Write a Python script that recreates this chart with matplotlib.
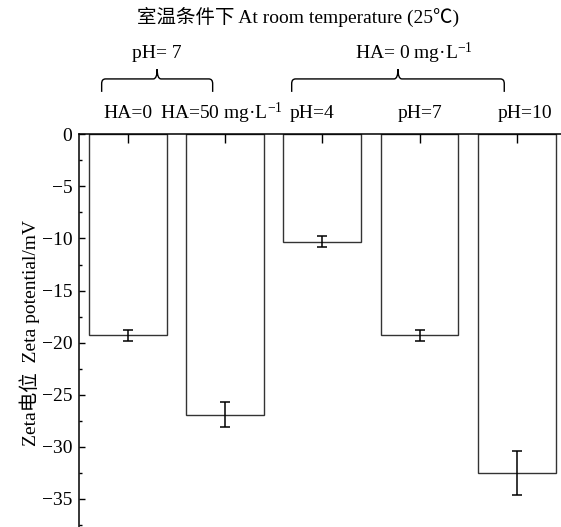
import matplotlib.pyplot as plt
import numpy as np
from matplotlib.path import Path
from matplotlib.patches import PathPatch
from matplotlib.transforms import blended_transform_factory
from matplotlib.ticker import MultipleLocator

plt.rcParams['font.family'] = ['Liberation Serif', 'Noto Sans CJK SC', 'DejaVu Sans']
plt.rcParams['font.size'] = 14
plt.rcParams['mathtext.fontset'] = 'custom'
plt.rcParams['mathtext.rm'] = 'Liberation Serif'
plt.rcParams['mathtext.it'] = 'Liberation Serif:italic'

# data
labels = ['HA=0', r'HA=50 mg·L$^{-1}$', 'pH=4', 'pH=7', 'pH=10']
zeta = [-19.3, -26.9, -10.3, -19.3, -32.5]
zeta_err = [0.5, 1.2, 0.55, 0.5, 2.1]

# layout of the labels above the plot (data-x shift of each label)
label_shift = [0.0, -0.04, -0.11, 0.0, 0.08]
groups = [('pH= 7', 0.73, 1.872), (r'HA= 0 mg·L$^{-1}$', 2.685, 4.872)]

W, H = 561, 527
fig = plt.figure(figsize=(W / 100, H / 100), dpi=100)
ax = fig.add_axes([79.3 / W, 0, 486 / W, 392.7 / H])

x = np.arange(1, len(zeta) + 1)
ax.bar(x, zeta, width=0.8, color='white', edgecolor='#333333', linewidth=1.0)
ax.errorbar(x, zeta, yerr=zeta_err, fmt='none', ecolor='black',
            elinewidth=1.1, capsize=3.3, capthick=1.1)

ax.set_xlim(0.5, 5.5)
ax.set_ylim(-37.7, 0)
ax.yaxis.set_major_locator(MultipleLocator(5))
ax.yaxis.set_minor_locator(MultipleLocator(2.5))
ax.tick_params(axis='y', which='major', direction='in', length=4, width=1, pad=5)
ax.tick_params(axis='y', which='minor', direction='in', length=2.5, width=1)
ax.xaxis.tick_top()
ax.set_xticks(x)
ax.tick_params(axis='x', direction='in', length=6.5, width=1, labeltop=False)
for s in ['bottom', 'right']:
    ax.spines[s].set_visible(False)
for s in ['top', 'left']:
    ax.spines[s].set_linewidth(1.1)

tr = blended_transform_factory(ax.transData, ax.transAxes)
for xi, lab, dx in zip(x, labels, label_shift):
    ax.text(xi + dx, 1.054, lab, transform=tr, ha='center', va='center', clip_on=False)

# curly brackets over the groups
yh, yb, yt = 1.141, 1.108, 1.166
rx, ry = 0.04, 0.012
for txt, x0, x1 in groups:
    xc = (x0 + x1) / 2
    verts = [(x0, yb), (x0, yh - ry), (x0, yh), (x0 + rx, yh),
             (xc - rx, yh), (xc, yh), (xc, yt),
             (xc, yh), (xc + rx, yh),
             (x1 - rx, yh), (x1, yh), (x1, yh - ry), (x1, yb)]
    codes = [Path.MOVETO, Path.LINETO, Path.CURVE3, Path.CURVE3,
             Path.LINETO, Path.CURVE3, Path.CURVE3,
             Path.CURVE3, Path.CURVE3,
             Path.LINETO, Path.CURVE3, Path.CURVE3, Path.LINETO]
    ax.add_patch(PathPatch(Path(verts, codes), transform=tr, fill=False,
                           edgecolor='black', linewidth=1.0, clip_on=False))
    ax.text(xc + (0.16 if 'HA' in txt else 0), 1.207, txt, transform=tr,
            ha='center', va='center', clip_on=False)

fig.text(297.6 / W, 1 - 17 / H, '室温条件下 At room temperature (25℃)',
         ha='center', va='center')
fig.text(30 / W, 1 - 333 / H, 'Zeta电位  Zeta potential/mV', rotation=90,
         ha='center', va='center')

plt.savefig('out.png', dpi=100)
